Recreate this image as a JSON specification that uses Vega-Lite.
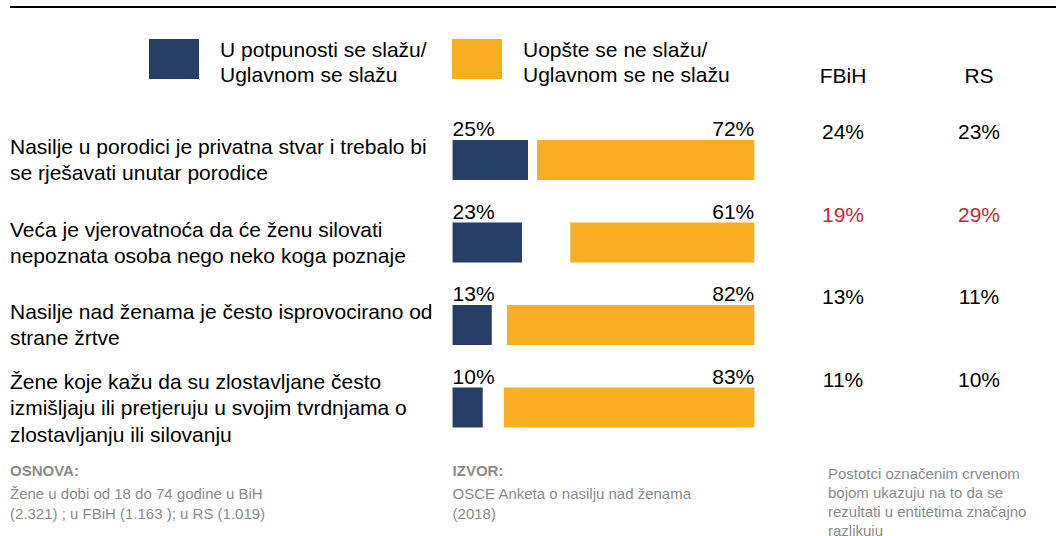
{
  "$schema": "https://vega.github.io/schema/vega-lite/v6.json",
  "width": 1056,
  "height": 536,
  "padding": 0,
  "autosize": "none",
  "background": "#ffffff",
  "config": {
    "view": {"stroke": null},
    "font": "Liberation Sans",
    "text": {"font": "Liberation Sans"}
  },
  "datasets": {
    "rows": [
      {"id": "s1", "lines": 2, "text": "Nasilje u porodici je privatna stvar i trebalo bi\nse rješavati unutar porodice", "agree": 0.25, "disagree": 0.72},
      {"id": "s2", "lines": 2, "text": "Veća je vjerovatnoća da će ženu silovati\nnepoznata osoba nego neko koga poznaje", "agree": 0.23, "disagree": 0.61},
      {"id": "s3", "lines": 2, "text": "Nasilje nad ženama je često isprovocirano od\nstrane žrtve", "agree": 0.13, "disagree": 0.82},
      {"id": "s4", "lines": 3, "text": "Žene koje kažu da su zlostavljane često\nizmišljaju ili pretjeruju u svojim tvrdnjama o\nzlostavljanju ili silovanju", "agree": 0.10, "disagree": 0.83}
    ],
    "entities": [
      {"id": "s1", "entity": "FBiH", "value": 0.24, "sig": false},
      {"id": "s1", "entity": "RS", "value": 0.23, "sig": false},
      {"id": "s2", "entity": "FBiH", "value": 0.19, "sig": true},
      {"id": "s2", "entity": "RS", "value": 0.29, "sig": true},
      {"id": "s3", "entity": "FBiH", "value": 0.13, "sig": false},
      {"id": "s3", "entity": "RS", "value": 0.11, "sig": false},
      {"id": "s4", "entity": "FBiH", "value": 0.11, "sig": false},
      {"id": "s4", "entity": "RS", "value": 0.10, "sig": false}
    ],
    "heads": [{"entity": "FBiH"}, {"entity": "RS"}]
  },
  "resolve": {"scale": {"x": "independent"}},
  "layer": [
    {
      "layer": [
        {
          "data": {"values": [{}]},
          "mark": {"type": "rule", "color": "#000000", "strokeWidth": 2, "yOffset": -70.5},
          "encoding": {
            "x": {"datum": -1.4669, "type": "quantitative", "axis": null, "scale": {"domain": [-1.5, 2.0], "nice": false, "zero": false}},
            "x2": {"datum": 2.0},
            "y": {"datum": "hdr", "type": "nominal", "axis": null, "scale": {"type": "band", "domain": ["hdr", "s1", "s2", "s3", "s4", "ftr"], "range": [36.25, 531.25], "paddingInner": 0, "paddingOuter": 0}}
          }
        },
        {
          "data": {"name": "rows"},
          "transform": [{"filter": "datum.lines == 2"}],
          "mark": {"type": "text", "align": "left", "baseline": "middle", "lineBreak": "\n", "fontSize": 21, "lineHeight": 26, "yOffset": -12, "color": "#000000"},
          "encoding": {
            "x": {"datum": -1.4669, "type": "quantitative", "axis": null, "scale": {"domain": [-1.5, 2.0], "nice": false, "zero": false}},
            "y": {"field": "id", "type": "nominal", "axis": null, "scale": {"type": "band", "domain": ["hdr", "s1", "s2", "s3", "s4", "ftr"], "range": [36.25, 531.25], "paddingInner": 0, "paddingOuter": 0}},
            "text": {"field": "text"}
          }
        },
        {
          "data": {"name": "rows"},
          "transform": [{"filter": "datum.lines == 3"}],
          "mark": {"type": "text", "align": "left", "baseline": "middle", "lineBreak": "\n", "fontSize": 21, "lineHeight": 26.5, "yOffset": -25, "color": "#000000"},
          "encoding": {
            "x": {"datum": -1.4669, "type": "quantitative", "axis": null, "scale": {"domain": [-1.5, 2.0], "nice": false, "zero": false}},
            "y": {"field": "id", "type": "nominal", "axis": null, "scale": {"type": "band", "domain": ["hdr", "s1", "s2", "s3", "s4", "ftr"], "range": [36.25, 531.25], "paddingInner": 0, "paddingOuter": 0}},
            "text": {"field": "text"}
          }
        },
        {
          "data": {"name": "rows"},
          "mark": {"type": "bar", "height": {"band": 0.485}},
          "encoding": {
            "x": {"field": "agree", "type": "quantitative", "axis": null, "scale": {"domain": [-1.5, 2.0], "nice": false, "zero": false}},
            "y": {"field": "id", "type": "nominal", "axis": null, "scale": {"type": "band", "domain": ["hdr", "s1", "s2", "s3", "s4", "ftr"], "range": [36.25, 531.25], "paddingInner": 0, "paddingOuter": 0}},
            "color": {
              "datum": "U potpunosti se slažu/Uglavnom se slažu",
              "type": "nominal",
              "scale": {"domain": ["U potpunosti se slažu/Uglavnom se slažu", "Uopšte se ne slažu/Uglavnom se ne slažu"], "range": ["#263e66", "#f9ae21"]},
              "legend": {
                "title": null,
                "orient": "none",
                "legendX": 149,
                "legendY": 34,
                "direction": "horizontal",
                "symbolType": "M-1,-0.8H1V0.8H-1Z",
                "symbolSize": 2500,
                "symbolStrokeWidth": 0,
                "symbolOpacity": 1,
                "labelFont": "Liberation Sans",
                "labelFontSize": 21,
                "labelColor": "#000000",
                "labelOffset": 21,
                "labelLimit": 400,
                "columnPadding": 25,
                "padding": 0,
                "labelExpr": "[slice(datum.label, 0, indexof(datum.label, '/') + 1), slice(datum.label, indexof(datum.label, '/') + 1)]",
                "encode": {"labels": {"update": {"dy": {"value": -8}, "lineHeight": {"value": 25}}}}
              }
            }
          }
        },
        {
          "data": {"name": "rows"},
          "mark": {"type": "text", "align": "left", "baseline": "alphabetic", "fontSize": 21, "yOffset": -24, "color": "#000000"},
          "encoding": {
            "x": {"datum": 0, "type": "quantitative", "axis": null, "scale": {"domain": [-1.5, 2.0], "nice": false, "zero": false}},
            "y": {"field": "id", "type": "nominal", "axis": null, "scale": {"type": "band", "domain": ["hdr", "s1", "s2", "s3", "s4", "ftr"], "range": [36.25, 531.25], "paddingInner": 0, "paddingOuter": 0}},
            "text": {"field": "agree", "type": "quantitative", "format": ".0%"}
          }
        },
        {
          "data": {"values": [{"t": "OSNOVA:"}]},
          "mark": {"type": "text", "align": "left", "baseline": "alphabetic", "fontSize": 15, "fontWeight": "bold", "yOffset": -14, "color": "#8a8a8a"},
          "encoding": {
            "x": {"datum": -1.4669, "type": "quantitative", "axis": null, "scale": {"domain": [-1.5, 2.0], "nice": false, "zero": false}},
            "y": {"datum": "ftr", "type": "nominal", "axis": null, "scale": {"type": "band", "domain": ["hdr", "s1", "s2", "s3", "s4", "ftr"], "range": [36.25, 531.25], "paddingInner": 0, "paddingOuter": 0}},
            "text": {"field": "t"}
          }
        },
        {
          "data": {"values": [{"t": " Žene u dobi od 18 do 74 godine u BiH\n(2.321) ; u FBiH (1.163 ); u RS (1.019)"}]},
          "mark": {"type": "text", "align": "left", "baseline": "alphabetic", "lineBreak": "\n", "fontSize": 15, "lineHeight": 20, "yOffset": 9, "color": "#8a8a8a"},
          "encoding": {
            "x": {"datum": -1.4669, "type": "quantitative", "axis": null, "scale": {"domain": [-1.5, 2.0], "nice": false, "zero": false}},
            "y": {"datum": "ftr", "type": "nominal", "axis": null, "scale": {"type": "band", "domain": ["hdr", "s1", "s2", "s3", "s4", "ftr"], "range": [36.25, 531.25], "paddingInner": 0, "paddingOuter": 0}},
            "text": {"field": "t"}
          }
        },
        {
          "data": {"values": [{"t": "IZVOR:"}]},
          "mark": {"type": "text", "align": "left", "baseline": "alphabetic", "fontSize": 15, "fontWeight": "bold", "yOffset": -14, "color": "#8a8a8a"},
          "encoding": {
            "x": {"datum": 0, "type": "quantitative", "axis": null, "scale": {"domain": [-1.5, 2.0], "nice": false, "zero": false}},
            "y": {"datum": "ftr", "type": "nominal", "axis": null, "scale": {"type": "band", "domain": ["hdr", "s1", "s2", "s3", "s4", "ftr"], "range": [36.25, 531.25], "paddingInner": 0, "paddingOuter": 0}},
            "text": {"field": "t"}
          }
        },
        {
          "data": {"values": [{"t": "OSCE Anketa o nasilju nad ženama\n(2018)"}]},
          "mark": {"type": "text", "align": "left", "baseline": "alphabetic", "lineBreak": "\n", "fontSize": 15, "lineHeight": 20, "yOffset": 9, "color": "#8a8a8a"},
          "encoding": {
            "x": {"datum": 0, "type": "quantitative", "axis": null, "scale": {"domain": [-1.5, 2.0], "nice": false, "zero": false}},
            "y": {"datum": "ftr", "type": "nominal", "axis": null, "scale": {"type": "band", "domain": ["hdr", "s1", "s2", "s3", "s4", "ftr"], "range": [36.25, 531.25], "paddingInner": 0, "paddingOuter": 0}},
            "text": {"field": "t"}
          }
        },
        {
          "data": {"values": [{"t": "Postotci označenim crvenom\nbojom ukazuju na to da se\nrezultati u entitetima značajno\nrazlikuju"}]},
          "mark": {"type": "text", "align": "left", "baseline": "alphabetic", "lineBreak": "\n", "fontSize": 15, "lineHeight": 19, "yOffset": -11, "color": "#8a8a8a"},
          "encoding": {
            "x": {"datum": 1.2443, "type": "quantitative", "axis": null, "scale": {"domain": [-1.5, 2.0], "nice": false, "zero": false}},
            "y": {"datum": "ftr", "type": "nominal", "axis": null, "scale": {"type": "band", "domain": ["hdr", "s1", "s2", "s3", "s4", "ftr"], "range": [36.25, 531.25], "paddingInner": 0, "paddingOuter": 0}},
            "text": {"field": "t"}
          }
        }
      ]
    },
    {
      "layer": [
        {
          "data": {"name": "rows"},
          "mark": {"type": "bar", "height": {"band": 0.485}},
          "encoding": {
            "x": {"field": "disagree", "type": "quantitative", "axis": null, "scale": {"domain": [-1.0, 2.5], "nice": false, "zero": false, "reverse": true}},
            "y": {"field": "id", "type": "nominal", "axis": null, "scale": {"type": "band", "domain": ["hdr", "s1", "s2", "s3", "s4", "ftr"], "range": [36.25, 531.25], "paddingInner": 0, "paddingOuter": 0}},
            "color": {
              "datum": "Uopšte se ne slažu/Uglavnom se ne slažu",
              "type": "nominal",
              "scale": {"domain": ["U potpunosti se slažu/Uglavnom se slažu", "Uopšte se ne slažu/Uglavnom se ne slažu"], "range": ["#263e66", "#f9ae21"]}
            }
          }
        },
        {
          "data": {"name": "rows"},
          "mark": {"type": "text", "align": "right", "baseline": "alphabetic", "fontSize": 21, "yOffset": -24, "color": "#000000"},
          "encoding": {
            "x": {"datum": 0, "type": "quantitative", "axis": null, "scale": {"domain": [-1.0, 2.5], "nice": false, "zero": false, "reverse": true}},
            "y": {"field": "id", "type": "nominal", "axis": null, "scale": {"type": "band", "domain": ["hdr", "s1", "s2", "s3", "s4", "ftr"], "range": [36.25, 531.25], "paddingInner": 0, "paddingOuter": 0}},
            "text": {"field": "disagree", "type": "quantitative", "format": ".0%"}
          }
        }
      ]
    },
    {
      "layer": [
        {
          "data": {"name": "heads"},
          "mark": {"type": "text", "align": "center", "baseline": "alphabetic", "fontSize": 21, "yOffset": 5.5, "color": "#000000"},
          "encoding": {
            "x": {"field": "entity", "type": "nominal", "axis": null, "scale": {"type": "point", "domain": ["FBiH", "RS"], "range": [843, 979], "padding": 0}},
            "y": {"datum": "hdr", "type": "nominal", "axis": null, "scale": {"type": "band", "domain": ["hdr", "s1", "s2", "s3", "s4", "ftr"], "range": [36.25, 531.25], "paddingInner": 0, "paddingOuter": 0}},
            "text": {"field": "entity"}
          }
        },
        {
          "data": {"name": "entities"},
          "mark": {"type": "text", "align": "center", "baseline": "alphabetic", "fontSize": 21, "yOffset": -21},
          "encoding": {
            "x": {"field": "entity", "type": "nominal", "axis": null, "scale": {"type": "point", "domain": ["FBiH", "RS"], "range": [843, 979], "padding": 0}},
            "y": {"field": "id", "type": "nominal", "axis": null, "scale": {"type": "band", "domain": ["hdr", "s1", "s2", "s3", "s4", "ftr"], "range": [36.25, 531.25], "paddingInner": 0, "paddingOuter": 0}},
            "text": {"field": "value", "type": "quantitative", "format": ".0%"},
            "color": {"condition": {"test": "datum.sig", "value": "#c8262f"}, "value": "#000000"}
          }
        }
      ]
    }
  ]
}
